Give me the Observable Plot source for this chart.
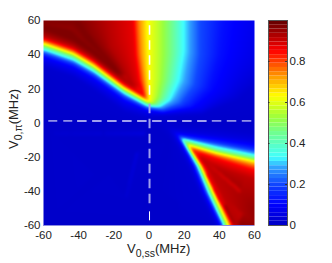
<!DOCTYPE html>
<html><head><meta charset="utf-8">
<script src="https://cdn.jsdelivr.net/npm/d3@7"></script>
<script src="https://cdn.jsdelivr.net/npm/@observablehq/plot@0.6"></script>
<style>html,body{margin:0;padding:0;background:#fff}#c{position:relative;width:332px;height:263px}#c svg{position:absolute;top:0;left:0;background:transparent}</style>
</head><body><div id="c"></div>
<script>
// Colormap
const cmapStops  = [0,0.1,0.2,0.28,0.33,0.45,0.52,0.63,0.72,0.85,1];
const cmapColors = ["#0000c4","#0000ff","#1048ff","#30a0ff","#40ffff","#70ff90","#98ff40","#ffff00","#ffa000","#ff0000","#600000"];
const xTicks = [-60,-40,-20,0,20,40,60];
const yTicks = [-60,-40,-20,0,20,40,60];
const barTicks = [0,0.2,0.4,0.6,0.8];
// Iso-value traces: [V0,ss , V0,pi]
const floorL = [[-60,25],[-60,-60],[36,-60]];
const floorC = [[-60,0],[0,0],[12,-10],[0,-60]];
const floorR = [[18,0.5],[60,0.5]];
const a02 = [[-60,33],[-43,27],[-31,19],[-14,6.5],[-1,3],[8,4],[30,5],[50,13],[60,22]];
const a07 = [[-60,37],[-43,31],[-31,24],[-14,11.5],[-1,6.5],[8,5.5],[30,8],[44,18],[56,40],[60,60]];
const a12 = [[-60,39.5],[-43,33.5],[-31,26.5],[-14,14],[-1,7.8],[8,6.3],[24,9.5],[34,20],[40,40],[42,60]];
const a20 = [[-60,41],[-43,35],[-31,28],[-14,15.5],[-1,8.7],[8,7.5],[18,11],[26,22],[29,40],[29,60]];
const a33 = [[-60,43],[-43,37],[-31,30],[-14,17.5],[-1,10],[6,9.5],[11.6,13.5],[16.7,25],[19.6,42],[19.6,60]];
const a45 = [[-60,44.7],[-43,38.8],[-31.6,31.8],[-14.5,18.8],[-0.8,11.2],[4,10.5],[7.5,14],[11,25],[13,40],[13,60]];
const a55 = [[-60,45.6],[-43,39.6],[-31.5,32.6],[-14.5,19.6],[-0.8,11.9],[2,11],[4,15],[5.5,25],[6,40],[6,60]];
const a63 = [[-60,46.5],[-43,40.5],[-31.5,33.5],[-14.5,20.5],[-1,12.5],[0.3,13],[-0.2,25],[-0.5,40],[-1,60]];
const a75 = [[-60,47.7],[-43,41.7],[-31.5,34.7],[-14.5,21.5],[-1.5,14],[-3,25],[-5,40],[-6,60]];
const a87 = [[-60,49.5],[-43,43.5],[-31.5,36.5],[-14.5,23],[-2.5,15],[-6,25],[-8,40],[-9,60]];
const a92 = [[-60,51],[-43,45],[-32,38],[-16,25.5],[-10,22],[-15,33],[-22,45],[-25,60]];
const a97 = [[-60,55],[-43,48.5],[-32,41],[-18,29.5],[-20,33],[-28,42],[-36,50],[-42,60],[-60,60]];
const b02 = [[60,-6.5],[38.4,-3.5],[9.4,-1.8],[15.6,-13.5],[21.9,-25.3],[28.7,-41.2],[37.8,-60]];
const b05 = [[60,-10.6],[38.4,-7.6],[13.4,-4.7],[19,-15],[24.5,-25.3],[30.4,-41.2],[39.5,-60]];
const b15 = [[60,-15.3],[38.4,-11.2],[16.8,-7.6],[21.4,-16.5],[26,-25.3],[32.5,-41.2],[41.5,-60]];
const b33 = [[60,-18.8],[38.4,-14.1],[17.9,-8.8],[22.8,-17],[27.6,-25.3],[33.9,-41.2],[42.4,-60]];
const b45 = [[60,-20.6],[38.4,-15.9],[19.6,-10],[24,-17.7],[28.5,-25.3],[35,-41.2],[43.5,-60]];
const b63 = [[60,-22.4],[38.4,-17.6],[21.9,-12.9],[25.6,-19],[29.3,-25.3],[36.7,-41.2],[45.2,-60]];
const b75 = [[60,-24.7],[38.4,-18.8],[22.9,-14],[26.8,-20],[30,-25.3],[37.6,-41.2],[46.2,-60]];
const b85 = [[60,-27.6],[38.4,-20.6],[24.2,-15.9],[27.6,-20.5],[31,-25.3],[38.8,-41.2],[47.5,-60]];
const b90 = [[60,-33],[45,-28],[35,-24],[30,-21],[33.5,-26.5],[41,-41.2],[49.5,-60]];
const b97 = [[33,-30],[39,-43],[48,-58.5]];
const b95 = [[52,-60],[60,-60],[60,-50]];
const traces = [[0.01,floorL],[0.01,floorC],[0.01,floorR],[0.02,a02],[0.07,a07],[0.12,a12],[0.2,a20],[0.33,a33],[0.45,a45],[0.55,a55],[0.63,a63],[0.75,a75],[0.87,a87],[0.92,a92],[0.97,a97],
 [0.02,b02],[0.05,b05],[0.15,b15],[0.33,b33],[0.45,b45],[0.63,b63],[0.75,b75],[0.85,b85],[0.91,b90],[0.98,b97],[0.95,b95]];
const table = traces.flatMap(([v,pts],t) => pts.map(([x,y]) => ({x,y,v,t})));

// Raster interpolator: fills each pixel between the two neighbouring iso-traces that bracket it
function betweenTraces(index,w,h,X,Y,V){
  const groups = d3.groups(index,i=>table[i].t).map(([,g])=>g);
  const vals = groups.map(g=>V[g[0]]);
  const W = new Float64Array(w*h);
  const n = groups.length, dx=new Float64Array(n), dy=new Float64Array(n), dd=new Float64Array(n);
  for(let py=0;py<h;py++) for(let px=0;px<w;px++){
    const x=px+.5,y=py+.5; let best=0,bd=Infinity;
    for(let k=0;k<n;k++){
      const g=groups[k]; let m=Infinity,mx=0,my=0;
      for(let s=0;s<g.length-1;s++){
        const ax=X[g[s]],ay=Y[g[s]],bx=X[g[s+1]],by=Y[g[s+1]];
        const ux=bx-ax,uy=by-ay; let u=((x-ax)*ux+(y-ay)*uy)/(ux*ux+uy*uy); u=u<0?0:u>1?1:u;
        const qx=ax+u*ux-x,qy=ay+u*uy-y,d=qx*qx+qy*qy;
        if(d<m){m=d;mx=qx;my=qy;}
      }
      dx[k]=mx;dy[k]=my;dd[k]=m; if(m<bd){bd=m;best=k;}
    }
    let o=-1,od=Infinity;
    for(let k=0;k<n;k++){ if(k!==best&&dd[k]<od&&Math.abs(vals[k]-vals[best])<=0.2&&dx[k]*dx[best]+dy[k]*dy[best]<0){od=dd[k];o=k;} }
    const d1=Math.sqrt(bd);
    W[py*w+px]= o<0?vals[best]:(vals[best]*Math.sqrt(od)+vals[o]*d1)/(Math.sqrt(od)+d1);
  }
  d3.blur2({data:W,width:w,height:h},1);
  return W;
}

const color = {type:"linear",domain:cmapStops,range:cmapColors,interpolate:"rgb"};
const font = "Liberation Sans, Arial, sans-serif";
const white="#ffffff", lav="#a0a0ee";
const main = Plot.plot({
  width:332,height:263,marginLeft:43,marginRight:78,marginTop:20,marginBottom:38,
  style:{fontFamily:font,fontSize:"11.5px",color:"#222",background:"transparent"},
  x:{domain:[-60,60],label:null},y:{domain:[-60,60],label:null},color,
  marks:[
    Plot.raster(table,{x:"x",y:"y",fill:"v",interpolate:betweenTraces,x1:-60,x2:60,y1:-60,y2:60,pixelSize:1}),
    Plot.ruleY([1.2],{x1:-57,x2:-41,stroke:white,strokeWidth:1,strokeDasharray:"9,6"}),
    Plot.ruleY([1.2],{x1:-40.6,x2:35.6,stroke:lav,strokeWidth:2,strokeDasharray:"9.5,5.5"}),
    Plot.ruleY([1.2],{x1:36,x2:60,stroke:white,strokeWidth:1,strokeDasharray:"9.5,5.5"}),
    Plot.ruleX([0.3],{y1:57,y2:13,stroke:white,strokeWidth:1.6,strokeDasharray:"9.5,5.5"}),
    Plot.ruleX([0.3],{y1:11,y2:-49,stroke:lav,strokeWidth:2,strokeDasharray:"9.5,5.5"}),
    Plot.ruleX([0.3],{y1:-52,y2:-60,stroke:white,strokeWidth:1,strokeDasharray:"9,6"}),
    Plot.ruleY([-60],{stroke:"#8c8ce0",strokeWidth:1}),
    Plot.axisX({ticks:xTicks,tickSize:0,tickPadding:5,label:null,fontSize:11.5,tickFormat:String}),
    Plot.axisY({ticks:yTicks,tickSize:0,tickPadding:3,label:null,fontSize:11.5,tickFormat:String})
  ]
});
const levels = d3.range(0,1,1/48);
const bar = Plot.plot({
  width:70,height:263,marginLeft:6,marginRight:45,marginTop:20,marginBottom:38,
  style:{fontFamily:font,fontSize:"11.5px",color:"#222",background:"transparent"},
  x:{axis:null,domain:[0,1]},y:{domain:[0,1],label:null},color,
  marks:[
    Plot.rect(levels,{x1:0,x2:1,y1:d=>d,y2:d=>d+1/48,fill:d=>d+1/96}),
    Plot.frame({stroke:"#555",strokeWidth:1}),
    Plot.ruleY(barTicks.slice(1),{x1:0.9,x2:1,stroke:"#333",strokeWidth:1}),
    Plot.ruleY(barTicks.slice(1),{x1:0,x2:0.08,stroke:"#333",strokeWidth:1}),
    Plot.axisY({anchor:"right",ticks:barTicks,tickSize:0,tickPadding:2,tickFormat:d=>d===0?"0":String(d),label:null,fontSize:11.5})
  ]
});
bar.style.left="262px";
const box=document.getElementById("c");
box.append(main,bar);
const s=d3.select(main);
const xl=s.append("text").attr("x",127).attr("y",253).attr("text-anchor","start").attr("font-family",font).attr("font-size",13).attr("fill","#222");
xl.append("tspan").text("V");
xl.append("tspan").attr("dy",4).attr("font-size",10.5).text("0,ss");
xl.append("tspan").attr("dy",-4).text("(MHz)");
const yl=s.append("text").attr("transform","translate(17.5,149) rotate(-90)").attr("text-anchor","start").attr("font-family",font).attr("font-size",13).attr("fill","#222");
yl.append("tspan").text("V");
yl.append("tspan").attr("dy",4).attr("font-size",10.5).text("0,π");
yl.append("tspan").attr("dy",-4).text("(MHz)");
</script></body></html>
